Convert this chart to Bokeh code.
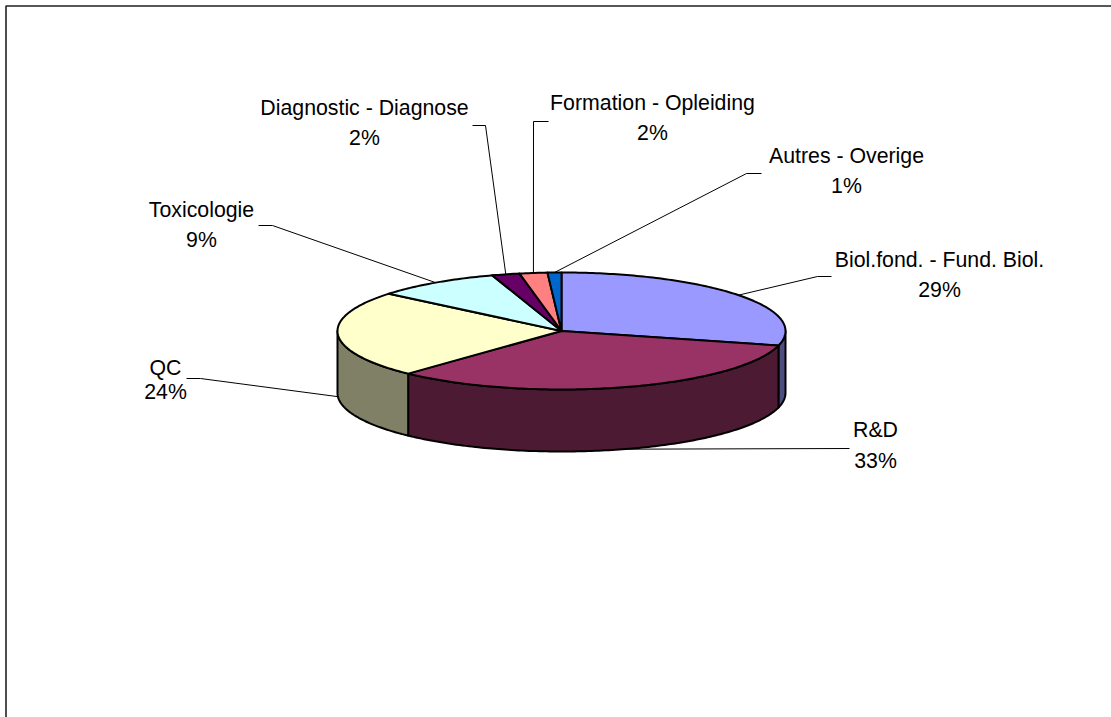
import math

from bokeh.core.properties import value
from bokeh.embed import file_html
from bokeh.models import ColumnDataSource, Range1d
from bokeh.plotting import figure
from bokeh.resources import INLINE

# Research domains and their share of the total, in percent
categories = [
    "Biol.fond. - Fund. Biol.",
    "R&D",
    "QC",
    "Toxicologie",
    "Diagnostic - Diagnose",
    "Formation - Opleiding",
    "Autres - Overige",
]
shares = [29, 33, 24, 9, 2, 2, 1]

top_colors = ["#9999FF", "#993366", "#FFFFCC", "#CCFFFF", "#660066", "#FF8080", "#0066CC"]
side_colors = ["#4D4D80", "#4D1A33", "#808066", "#668080", "#330033", "#804040", "#003366"]

# Ellipse of the tilted disc, in page pixels
CX, CY, RX, RY, DEPTH = 561.0, 330.5, 224.0, 58.5, 62.0

# Per label: centre x, first line y, second line y, elbow x, elbow y, leader end x
label_layout = [
    (939, 259, 289, 817, 276, 831),
    (875, 429, 460, 849, 448, 849),
    (165, 367, 391, 200, 378, 186),
    (201, 209, 239, 272, 225, 258),
    (364, 107, 137, 485, 125, 472),
    (652, 102, 132, 533, 121, 548),
    (846, 155, 185, 746, 173, 761),
]


def rim(turn, drop=0.0):
    """Point on the disc rim; `turn` is in percent, clockwise from 12 o'clock."""
    a = 2 * math.pi * turn / 100
    return CX + RX * math.sin(a), CY - RY * math.cos(a) + drop


def arc(start, stop, drop=0.0):
    n = max(2, int(abs(stop - start) * 4) + 2)
    return [rim(start + (stop - start) * i / (n - 1), drop) for i in range(n)]


p = figure(
    width=1111,
    height=717,
    x_range=Range1d(0, 1111),
    y_range=Range1d(717, 0),
    output_backend="svg",
    toolbar_location=None,
    min_border=0,
    outline_line_color=None,
    background_fill_color="white",
    border_fill_color="white",
)
p.axis.visible = False
p.grid.visible = False

# Chart area frame: only the top and left edges fall inside the page
p.line([5.5, 5.5, 1111], [717, 5.5, 5.5], line_color="#222222", line_width=1.6)

bounds = [0.0]
for s in shares:
    bounds.append(bounds[-1] + s)

# Front wall of the disc: only the lower half of the rim (25..75 percent) is visible
side_x, side_y, side_c = [], [], []
for i in range(len(shares)):
    a = max(bounds[i], 25.0)
    b = min(bounds[i + 1], 75.0)
    if a >= b:
        continue
    upper = arc(a, b)
    lower = arc(b, a, DEPTH)
    pts = upper + lower
    side_x.append([q[0] for q in pts])
    side_y.append([q[1] for q in pts])
    side_c.append(side_colors[i])
p.patches(
    "x", "y",
    source=ColumnDataSource(dict(x=side_x, y=side_y, c=side_c)),
    fill_color="c",
    line_color="black",
    line_width=2,
    line_join="round",
)

# Top face of the disc
top_x, top_y = [], []
for i in range(len(shares)):
    pts = [(CX, CY)] + arc(bounds[i], bounds[i + 1])
    top_x.append([q[0] for q in pts])
    top_y.append([q[1] for q in pts])
p.patches(
    "x", "y",
    source=ColumnDataSource(dict(x=top_x, y=top_y, c=top_colors)),
    fill_color="c",
    line_color="black",
    line_width=2,
    line_join="round",
)

# Leader lines start at the middle of each slice's visible edge
lead_x, lead_y = [], []
for i, layout in enumerate(label_layout):
    mid = (bounds[i] + bounds[i + 1]) / 2
    drop = DEPTH if 25 <= mid <= 75 else 0.0
    sx, sy = rim(mid, drop)
    _, _, _, ex, ey, tail = layout
    lead_x.append([sx, ex, tail])
    lead_y.append([sy, ey, ey])
p.multi_line(lead_x, lead_y, line_color="black", line_width=1)

# Two-line labels: category name above, percentage below
text_x, text_y, text_s = [], [], []
for name, share, layout in zip(categories, shares, label_layout):
    text_x += [layout[0], layout[0]]
    text_y += [layout[1], layout[2]]
    text_s += [name, f"{share}%"]
p.text(
    text_x,
    text_y,
    text=text_s,
    text_font=value("Liberation Sans"),
    text_font_size="21.3px",
    text_color="black",
    text_align="center",
    text_baseline="middle",
)

open("out.html", "w").write(file_html(p, INLINE))
